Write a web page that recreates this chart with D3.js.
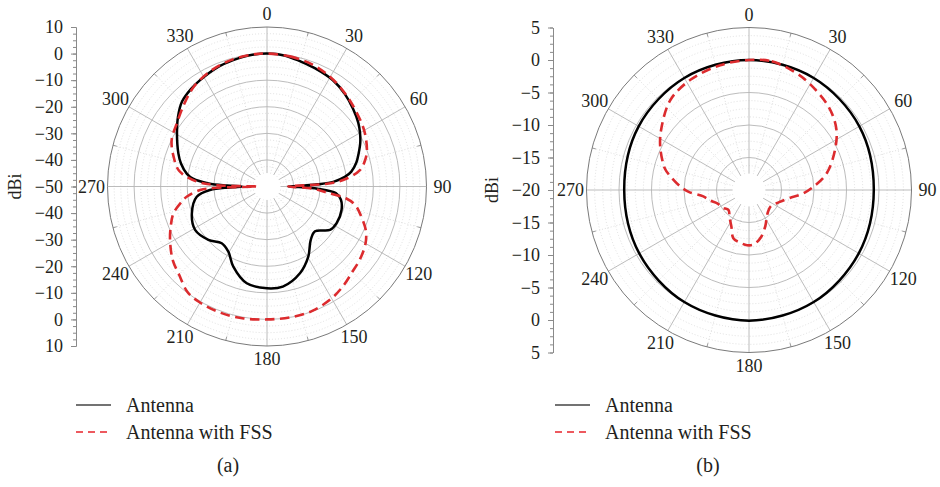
<!DOCTYPE html>
<html><head><meta charset="utf-8">
<script src="https://cdn.jsdelivr.net/npm/d3@7"></script>
<style>
body{margin:0;background:#fff}
svg{display:block}
text{font-family:"Liberation Serif","Times New Roman",serif;fill:#231f20}
</style>
</head><body>
<svg id="chart" width="940" height="487"></svg>
<script>
// ---------- data ----------
const angleTicks = [0,30,60,90,120,150,180,210,240,270,300,330];
const seriesNames = ["Antenna","Antenna with FSS"];
const panelLabels = ["(a)","(b)"];

const aRadialTicks = [10,0,-10,-20,-30,-40,-50];
const bRadialTicks = [5,0,-5,-10,-15,-20];

const aAntennaAngles = [0,8,15,22,32,40,48,55,60,65,70,75,80,83,86,87.5,89,90,91,92.5,95.5,100,107.5,117.8,124.6,133,140.8,149.5,159.2,171,180,191.8,202.8,210.7,218.6,227.7,238.9,250.4,261.7,266.5,268.5,270,271.5,273,276,279,285,290.5,300.5,308,315,322,328,337,345,352];
const aAntennaGain = [0,-0.3,-1.3,-2.0,-3,-4.5,-6.4,-8.1,-9.6,-11.3,-13.3,-15.2,-17.8,-20.5,-25,-31,-38,-42,-38,-31,-24,-21.8,-20.6,-20.4,-21.2,-25.3,-24,-19.4,-15.1,-11.9,-11.7,-12.8,-17.3,-21.5,-22.7,-20.2,-18.4,-20,-23.3,-28.5,-36,-41,-35,-28,-22,-19.5,-16.5,-14.4,-10.7,-7.5,-4.8,-3.5,-2.7,-1.5,-0.8,-0.2];

const aFssAngles = [0,10,20,30,40,50,60,70,75,80,85,87.5,90,92.5,95.5,98.5,102,108,114,120,128,135,142,150,160,170,180,190,200,210,217,225,232,241,248,254,260,263,267,268.5,270,271.5,274,280,288,296,305,315,324,335,345,355];
const aFssGain = [0,-0.3,-1.0,-2.4,-4.3,-6.2,-7.8,-10,-11.8,-14.5,-21,-28,-42,-33,-28,-20,-16,-12.6,-9.3,-7.2,-5.6,-4.6,-3,-1.4,-0.2,0,0,0.4,0.6,0.4,-0.3,-3.2,-5,-8.3,-11,-13.4,-17.5,-19.8,-24.8,-31,-46,-31,-23.5,-16.5,-13,-10.1,-8.6,-6,-3.4,-1.5,-0.5,0];

const bAntennaAngles = [0,30,60,90,120,150,180,210,240,270,300,330];
const bAntennaGain = [0,-0.1,-0.4,-0.8,-0.5,-0.1,0.1,-0.1,-0.5,-0.8,-0.4,-0.1];

const bFssAngles = [0,10,22,30,44,55,65,78,88,95,101,112,125,135,146,155,165,175,182,190,198,206,215,226,236,247,255,262,268,273,280,284,296,306,319,332,347];
const bFssGain = [0,0.1,-0.6,-1.2,-2.3,-3.6,-5.4,-7.8,-10.3,-12,-13.6,-15,-15.8,-15.7,-15.1,-14,-12.6,-11.6,-11.5,-11.8,-12.2,-13.8,-14.8,-15.6,-15.1,-14.7,-13.8,-12.9,-10.8,-9.4,-7.7,-6.7,-4.8,-3.4,-1.6,-0.8,-0.3];

// ---------- layout ----------
const panels = [
  {cx:267, cy:186.5, R:159.5, min:-50, max:10, major:10, minor:2.5, hole:-45, axisX:76,
   ticks:aRadialTicks, series:[[aAntennaAngles,aAntennaGain],[aFssAngles,aFssGain]],
   legendX:76, titleX:228},
  {cx:749, cy:190, R:162.5, min:-20, max:5, major:5, minor:1.25, hole:-17.5, axisX:553,
   ticks:bRadialTicks, series:[[bAntennaAngles,bAntennaGain],[bFssAngles,bFssGain]],
   legendX:555, titleX:708}
];
const colors = ["#000000","#dc2b2e"];
const svg = d3.select("#chart");
const fmt = d => d < 0 ? "\u2212" + Math.abs(d) : String(d);
const rad = a => a * Math.PI / 180;

panels.forEach((p, pi) => {
  const r = d3.scaleLinear().domain([p.min, p.max]).range([0, p.R]);
  const g = svg.append("g").attr("transform", `translate(${p.cx},${p.cy})`);
  const rHole = r(p.hole);

  // dotted circles
  const minorVals = d3.range(p.hole + p.minor, p.max - 1e-6, p.minor)
      .filter(v => Math.abs(((v - p.min) / p.major) - Math.round((v - p.min) / p.major)) > 1e-6);
  g.selectAll("circle.minor").data(minorVals).join("circle")
    .attr("r", d => r(d)).attr("fill","none")
    .attr("stroke","#d2d2d2").attr("stroke-width",0.7).attr("stroke-dasharray","1,2");
  // dotted spokes
  const dotAngles = d3.range(15, 360, 30);
  g.selectAll("line.minorSpoke").data(dotAngles).join("line")
    .attr("x1", d => rHole*Math.sin(rad(d))).attr("y1", d => -rHole*Math.cos(rad(d)))
    .attr("x2", d => p.R*Math.sin(rad(d))).attr("y2", d => -p.R*Math.cos(rad(d)))
    .attr("stroke","#cfcfcf").attr("stroke-width",0.7).attr("stroke-dasharray","1,2");
  // outer ticks at dotted spokes
  g.selectAll("line.otick").data(dotAngles).join("line")
    .attr("x1", d => (p.R-4)*Math.sin(rad(d))).attr("y1", d => -(p.R-4)*Math.cos(rad(d)))
    .attr("x2", d => p.R*Math.sin(rad(d))).attr("y2", d => -p.R*Math.cos(rad(d)))
    .attr("stroke","#888").attr("stroke-width",0.8);
  // solid circles
  const majorVals = d3.range(p.min + p.major, p.max, p.major);
  g.selectAll("circle.major").data(majorVals).join("circle")
    .attr("r", d => r(d)).attr("fill","none")
    .attr("stroke","#b4b4b4").attr("stroke-width",0.9);
  // solid spokes
  g.selectAll("line.spoke").data(angleTicks).join("line")
    .attr("x1", d => rHole*Math.sin(rad(d))).attr("y1", d => -rHole*Math.cos(rad(d)))
    .attr("x2", d => p.R*Math.sin(rad(d))).attr("y2", d => -p.R*Math.cos(rad(d)))
    .attr("stroke","#b4b4b4").attr("stroke-width",0.9);
  // hole
  g.append("circle").attr("r", rHole).attr("fill","#fff");
  // outer circle
  g.append("circle").attr("r", p.R).attr("fill","none").attr("stroke","#7a7a7a").attr("stroke-width",1);

  // angle labels
  g.selectAll("text.ang").data(angleTicks).join("text")
    .attr("x", d => (p.R + 13 + 3*Math.abs(Math.sin(rad(d))))*Math.sin(rad(d)))
    .attr("y", d => -(p.R + 13 + 3*Math.abs(Math.sin(rad(d))))*Math.cos(rad(d)))
    .attr("text-anchor","middle").attr("dominant-baseline","central")
    .attr("font-size",18).text(d => d);

  // series
  const line = d3.lineRadial()
    .angle(d => rad(d[0])).radius(d => r(d[1]))
    .curve(d3.curveCatmullRomClosed.alpha(0.5));
  p.series.forEach(([angs, gains], si) => {
    const pts = angs.map((a, i) => [a, gains[i]]);
    g.append("path").attr("d", line(pts)).attr("fill","none")
      .attr("stroke", colors[si]).attr("stroke-width", si === 0 ? 2.5 : 2.6)
      .attr("stroke-dasharray", si === 1 ? "9.5,5.5" : null)
      .attr("stroke-linejoin","round");
  });

  // left radial axis (mirrored)
  const yUp = d3.scaleLinear().domain([p.min, p.max]).range([p.cy, p.cy - p.R]);
  const yDn = d3.scaleLinear().domain([p.min, p.max]).range([p.cy, p.cy + p.R]);
  const minorTicks = d3.range(p.min, p.max + 1e-6, p.minor);
  const axG = svg.append("g").attr("transform", `translate(${p.axisX},0)`);
  [yUp, yDn].forEach((ys, k) => {
    axG.append("g").call(d3.axisLeft(ys).tickValues(minorTicks).tickSize(3).tickFormat("").tickSizeOuter(0))
      .call(s => s.select(".domain").attr("stroke","#8a8a8a"))
      .call(s => s.selectAll(".tick line").attr("stroke","#8a8a8a"));
    const tv = k === 0 ? p.ticks : p.ticks.filter(v => v !== p.min);
    axG.append("g").call(d3.axisLeft(ys).tickValues(tv).tickSize(5).tickPadding(8).tickFormat(fmt).tickSizeOuter(0))
      .call(s => s.select(".domain").attr("stroke","#8a8a8a"))
      .call(s => s.selectAll(".tick line").attr("stroke","#8a8a8a"))
      .call(s => s.selectAll(".tick text").attr("font-size",18)
         .attr("font-family","Liberation Serif, serif").attr("fill","#231f20"));
  });
  svg.append("text").attr("transform", `translate(${p.axisX - 61},${p.cy}) rotate(-90)`)
    .attr("text-anchor","middle").attr("dominant-baseline","central")
    .attr("font-size",18).text("dBi");

  // legend
  const lg = svg.append("g");
  seriesNames.forEach((name, si) => {
    const y = 405 + si*27;
    lg.append("line").attr("x1", p.legendX).attr("x2", p.legendX + 35)
      .attr("y1", y).attr("y2", y)
      .attr("stroke", si === 0 ? "#444" : "#e8232a").attr("stroke-width", 1.5)
      .attr("stroke-dasharray", si === 1 ? "7,5" : null);
    lg.append("text").attr("x", p.legendX + 50).attr("y", y + 6.5)
      .attr("font-size",20).text(name);
  });
  svg.append("text").attr("x", p.titleX).attr("y", 472)
    .attr("text-anchor","middle").attr("font-size",20).text(panelLabels[pi]);
});
</script>
</body></html>
